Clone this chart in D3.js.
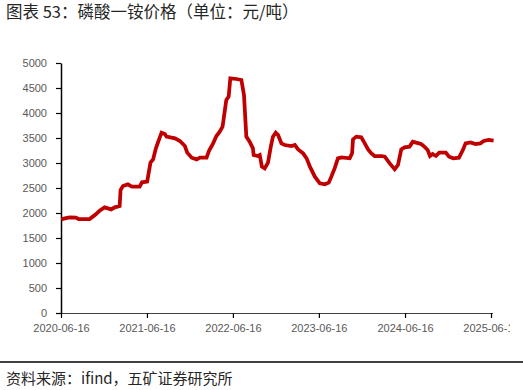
<!DOCTYPE html>
<html>
<head>
<meta charset="utf-8">
<script src="https://cdn.jsdelivr.net/npm/d3@7"></script>
<style>
  body { margin: 0; background: #fff; }
  svg { display: block; }
</style>
</head>
<body>
<svg id="chart"></svg>
<script>
// dates and prices (元/吨)
const dates = [
  '2020-06-17','2020-07-02','2020-07-23','2020-08-18','2020-08-30','2020-10-15','2020-10-29','2020-11-12',
  '2020-11-27','2020-12-18','2021-01-01','2021-01-15','2021-01-30','2021-02-20','2021-02-24','2021-03-06',
  '2021-03-27','2021-04-13','2021-05-16','2021-05-26','2021-06-17','2021-06-23','2021-07-01','2021-07-12',
  '2021-07-24','2021-08-03','2021-08-17','2021-08-31','2021-09-07','2021-10-13','2021-11-03','2021-11-24',
  '2021-12-04','2021-12-23','2022-01-13','2022-01-27','2022-02-24','2022-03-07','2022-03-24','2022-04-07',
  '2022-04-21','2022-05-03','2022-05-09','2022-05-19','2022-05-29','2022-06-05','2022-07-01','2022-07-22',
  '2022-08-02','2022-08-12','2022-08-26','2022-09-09','2022-09-12','2022-09-30','2022-10-08','2022-10-17',
  '2022-10-29','2022-11-12','2022-11-24','2022-12-03','2022-12-15','2022-12-25','2023-01-08','2023-01-22',
  '2023-02-20','2023-03-06','2023-03-20','2023-04-10','2023-04-25','2023-05-09','2023-05-30','2023-06-20',
  '2023-07-11','2023-07-28','2023-08-08','2023-08-22','2023-09-05','2023-09-20','2023-10-25','2023-11-04',
  '2023-11-08','2023-11-22','2023-12-13','2023-12-28','2024-01-11','2024-01-25','2024-02-08','2024-03-08',
  '2024-03-22','2024-04-12','2024-05-03','2024-05-17','2024-05-31','2024-06-14','2024-07-05','2024-07-19',
  '2024-08-02','2024-08-23','2024-09-06','2024-09-20','2024-09-30','2024-10-11','2024-10-25','2024-11-08',
  '2024-12-06','2024-12-20','2025-01-07','2025-01-31','2025-02-18','2025-02-28','2025-03-21','2025-04-11',
  '2025-05-02','2025-05-16','2025-06-06','2025-06-27'
];
const prices = [
  1873,1893,1913,1907,1880,1880,1927,1980,
  2047,2113,2093,2073,2113,2140,2460,2540,
  2573,2527,2527,2613,2627,2793,3007,3073,
  3293,3427,3607,3580,3527,3493,3440,3340,
  3207,3107,3073,3107,3107,3247,3393,3540,
  3627,3727,3927,4260,4327,4693,4680,4660,
  4360,3527,3427,3293,3160,3140,3160,2927,
  2893,3007,3327,3527,3607,3560,3393,3360,
  3340,3360,3273,3193,3093,2927,2727,2593,
  2573,2607,2727,2893,3093,3113,3093,3193,
  3473,3527,3513,3393,3273,3193,3140,3140,
  3127,2993,2873,2960,3273,3313,3327,3427,
  3407,3380,3327,3260,3140,3180,3140,3207,
  3207,3127,3093,3107,3273,3393,3413,3380,
  3393,3440,3460,3447
];
const xTicks = ['2020-06-16','2021-06-16','2022-06-16','2023-06-16','2024-06-16','2025-06-16'];
const yTicks = [0,500,1000,1500,2000,2500,3000,3500,4000,4500,5000];

const title = '图表 53：磷酸一铵价格（单位：元/吨）';
const source = '资料来源：ifind，五矿证券研究所';

const width = 523, height = 390;
const margin = {top: 63, right: 32, bottom: 77, left: 61};
const parse = d3.timeParse('%Y-%m-%d');

const data = dates.map((d, i) => ({date: parse(d), value: prices[i]}));

const svg = d3.select('#chart')
  .attr('width', width)
  .attr('height', height)
  .style('font-family', '"Liberation Sans", Arial, sans-serif');

const x = d3.scaleTime()
  .domain([parse(xTicks[0]), parse(xTicks[xTicks.length - 1])])
  .range([margin.left, width - margin.right]);

const y = d3.scaleLinear()
  .domain([0, 5000])
  .range([height - margin.bottom, margin.top]);

svg.append('defs').append('clipPath')
  .attr('id', 'edge')
  .append('rect')
    .attr('x', 0).attr('y', 0)
    .attr('width', 510).attr('height', height);

// title
svg.append('text')
  .attr('x', 6)
  .attr('y', 18)
  .style('font-family', '"Noto Sans CJK SC", sans-serif')
  .style('font-size', '16.5px')
  .attr('fill', '#262626')
  .text(title);

// y axis
let yAxis = svg.append('g')
  .attr('transform', `translate(${margin.left},0)`)
  .call(d3.axisLeft(y).tickValues(yTicks).tickSize(5).tickSizeOuter(0).tickPadding(9).tickFormat(d3.format('d')));

yAxis.select('.domain').attr('stroke', '#000').attr('stroke-width', 1.5);
yAxis.selectAll('.tick line').attr('stroke', '#000').attr('stroke-width', 1.2);
yAxis.selectAll('.tick text')
  .attr('fill', '#595959')
  .style('font-size', '11px');

// x axis
let xAxis = svg.append('g')
  .attr('transform', `translate(0,${height - margin.bottom})`)
  .attr('clip-path', 'url(#edge)')
  .call(d3.axisBottom(x).tickValues(xTicks.map(parse)).tickSize(5).tickSizeOuter(0).tickPadding(6).tickFormat(d3.timeFormat('%Y-%m-%d')));

xAxis.select('.domain')
  .attr('d', `M${margin.left},0H${width - margin.right + 2}`)
  .attr('stroke', '#000').attr('stroke-width', 1.5);
xAxis.selectAll('.tick line').attr('stroke', '#000').attr('stroke-width', 1.2);
xAxis.selectAll('.tick text')
  .attr('fill', '#595959')
  .style('font-size', '11px');

// price line
const line = d3.line()
  .x(d => x(d.date))
  .y(d => y(d.value));

svg.append('path')
  .datum(data)
  .attr('fill', 'none')
  .attr('stroke', '#c00000')
  .attr('stroke-width', 3.75)
  .attr('stroke-linejoin', 'miter')
  .attr('d', line);

// source line + note
svg.append('line')
  .attr('x1', 0).attr('x2', width)
  .attr('y1', 362).attr('y2', 362)
  .attr('stroke', '#000')
  .attr('stroke-width', 1.5);

svg.append('text')
  .attr('x', 6)
  .attr('y', 384)
  .style('font-family', '"Noto Sans CJK SC", sans-serif')
  .style('font-size', '15px')
  .attr('fill', '#262626')
  .text(source);
</script>
</body>
</html>
